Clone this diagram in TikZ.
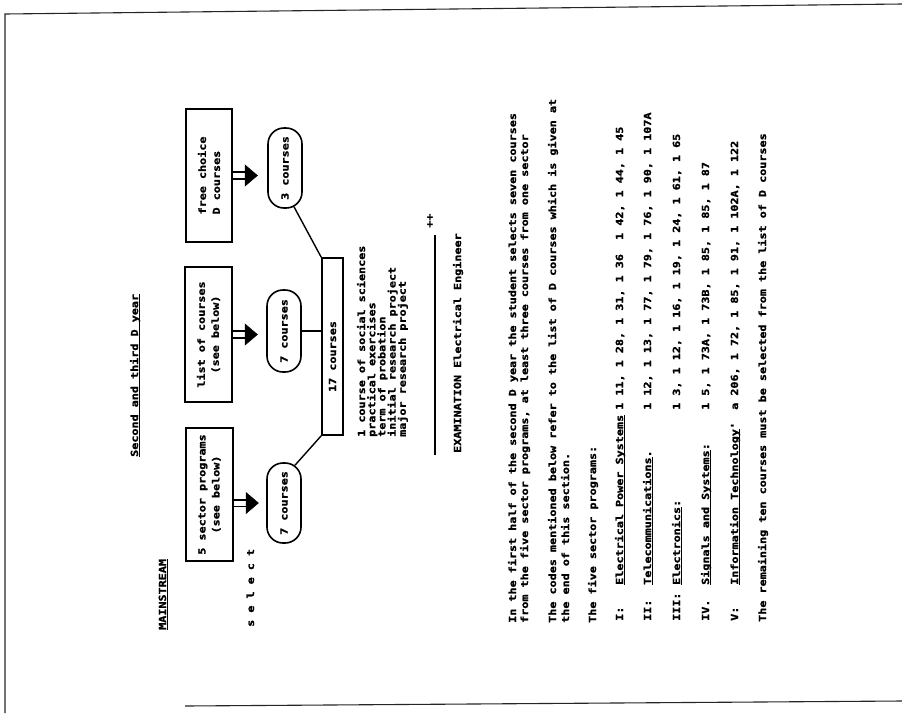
\documentclass[tikz,border=0pt]{standalone}
\usepackage{fontspec}
\newfontfamily\dotfont{DejaVu Sans Mono}[FakeStretch=1.2, BoldFeatures={FakeBold=1.5}]
\usetikzlibrary{calc,arrows.meta}
\newcommand\ulx[1]{\setbox0\hbox{#1}\rlap{\rule[-2pt]{\wd0}{1.5pt}}\box0}
\tikzset{
  every node/.style={font=\dotfont\bfseries\fontsize{9.8}{14}\selectfont, inner sep=0pt},
  txt/.style={rotate=90, anchor=base west},
  box/.style={draw, line width=1.6pt, rotate=90},
  pill/.style={draw, line width=1.6pt, rotate=90, rounded corners=16pt, minimum width=80pt, minimum height=34pt},
  ln/.style={line width=1.4pt},
  shaft/.style={double, double distance=5pt, line width=1.6pt},
  headtip/.style={-{Triangle[length=13pt,width=22pt]}, line width=0.5pt},
  border/.style={line width=1.1pt, black!85}
}
\begin{document}
\begin{tikzpicture}[x=1pt, y=-1pt]
\useasboundingbox[fill=white] (0,0) rectangle (902,713);
% page border
\coordinate (b1) at (5,713);
\coordinate (b2) at (5,14);
\coordinate (b3) at (902,4);
\coordinate (b4) at (185,706);
\coordinate (b5) at (902,701);
\draw[border] (b1) -- (b2) -- (b3);
\draw[border] (b4) -- (b5);
% headings
\node[txt] (title) at (138,457) {\ulx{Second and third D year}};
\node[txt] (mainstream) at (166,630) {\ulx{MAINSTREAM}};
\node[txt] (select) at (254,627) {s e l e c t};
% boxes
\node[box, minimum width=133pt, minimum height=46pt, align=left] (fc) at (209,175.5) {free choice\\D courses};
\node[box, minimum width=135pt, minimum height=47pt, align=center] (lc) at (208.5,334.5) {list of courses\\(see below)};
\node[box, minimum width=133pt, minimum height=47pt, align=center] (sp) at (209.5,494.5) {5 sector programs\\(see below)};
% pills
\node[pill] (p3) at (285,168) {3 courses};
\node[pill, minimum width=82pt] (p7b) at (284,331) {7 courses};
\node[pill] (p7a) at (284,503) {7 courses};
% 17 courses
\node[box, minimum width=177pt, minimum height=21pt] (c17) at (332.5,346.5) {17 courses\hspace*{20pt}};
% fat arrows
\draw[shaft] (fc.south) -- ++(13,0) coordinate (fa);
\draw[headtip] ($(fa)+(-1,0)$) -- ++(13,0);
\draw[shaft] (lc.south) -- ++(13,0) coordinate (la);
\draw[headtip] ($(la)+(-1,0)$) -- ++(13,0);
\draw[shaft] (sp.south |- p7a.center) -- ++(13,0) coordinate (sa);
\draw[headtip] ($(sa)+(-1,0)$) -- ++(13,0);
% connectors to 17 courses
\draw[ln] ($(p3.west)+(9,-2)$) -- (c17.north east);
\draw[ln] (p7b.south) -- (p7b.south -| c17.north);
\draw[ln] ($(p7a.east)+(11,3)$) -- (c17.north west);
% list of components
\foreach \t [count=\i] in {1 course of social sciences, practical exercises, term of probation, initial research project, major research project}
  \node[txt] (comp\i) at ({365+(\i-1)*10.2},437) {\t};
% signature line
\coordinate (s1) at (435,235);
\coordinate (s2) at (435,455);
\draw[ln] (s1) -- (s2);
\node[txt] (marks) at (433,228) {++};
\node[txt] (exam) at (461,453) {EXAMINATION Electrical Engineer};
% paragraphs
\node[txt] (pa1) at (516,623) {In the first half of the second D year the student selects seven courses};
\node[txt] (pa2) at (528,623) {from the five sector programs, at least three courses from one sector};
\node[txt] (pb1) at (556,623) {The codes mentioned below refer to the list of D courses which is given at};
\node[txt] (pb2) at (569,623) {the end of this section.};
\node[txt] (pc) at (596,623) {The five sector programs:};
% sector programs
\node[txt] (r1) at (623,621) {I:};
\node[txt] (n1) at (623,585) {\ulx{Electrical Power Systems}};
\node[txt] (c1) at (623,410) {1 11, 1 28, 1 31, 1 36\ \ 1 42, 1 44, 1 45};
\node[txt] (r2) at (651,621) {II:};
\node[txt] (n2) at (651,585) {\ulx{Telecommunications}.};
\node[txt] (c2) at (651,410) {1 12, 1 13, 1 77, 1 79, 1 76, 1 90, 1 107A};
\node[txt] (r3) at (680,621) {III:};
\node[txt] (n3) at (680,585) {\ulx{Electronics}:};
\node[txt] (c3) at (680,410) {1 3, 1 12, 1 16, 1 19, 1 24, 1 61, 1 65};
\node[txt] (r4) at (709,621) {IV.};
\node[txt] (n4) at (709,585) {\ulx{Signals and Systems}:};
\node[txt] (c4) at (709,410) {1 5, 1 73A, 1 73B, 1 85, 1 85, 1 87};
\node[txt] (r5) at (738,621) {V:};
\node[txt] (n5) at (738,585) {\ulx{Information Technology}'};
\node[txt] (c5) at (738,410) {a 206, 1 72, 1 85, 1 91, 1 102A, 1 122};
\node[txt] (pd) at (766,622) {The remaining ten courses must be selected from the list of D courses};
\end{tikzpicture}
\end{document}
